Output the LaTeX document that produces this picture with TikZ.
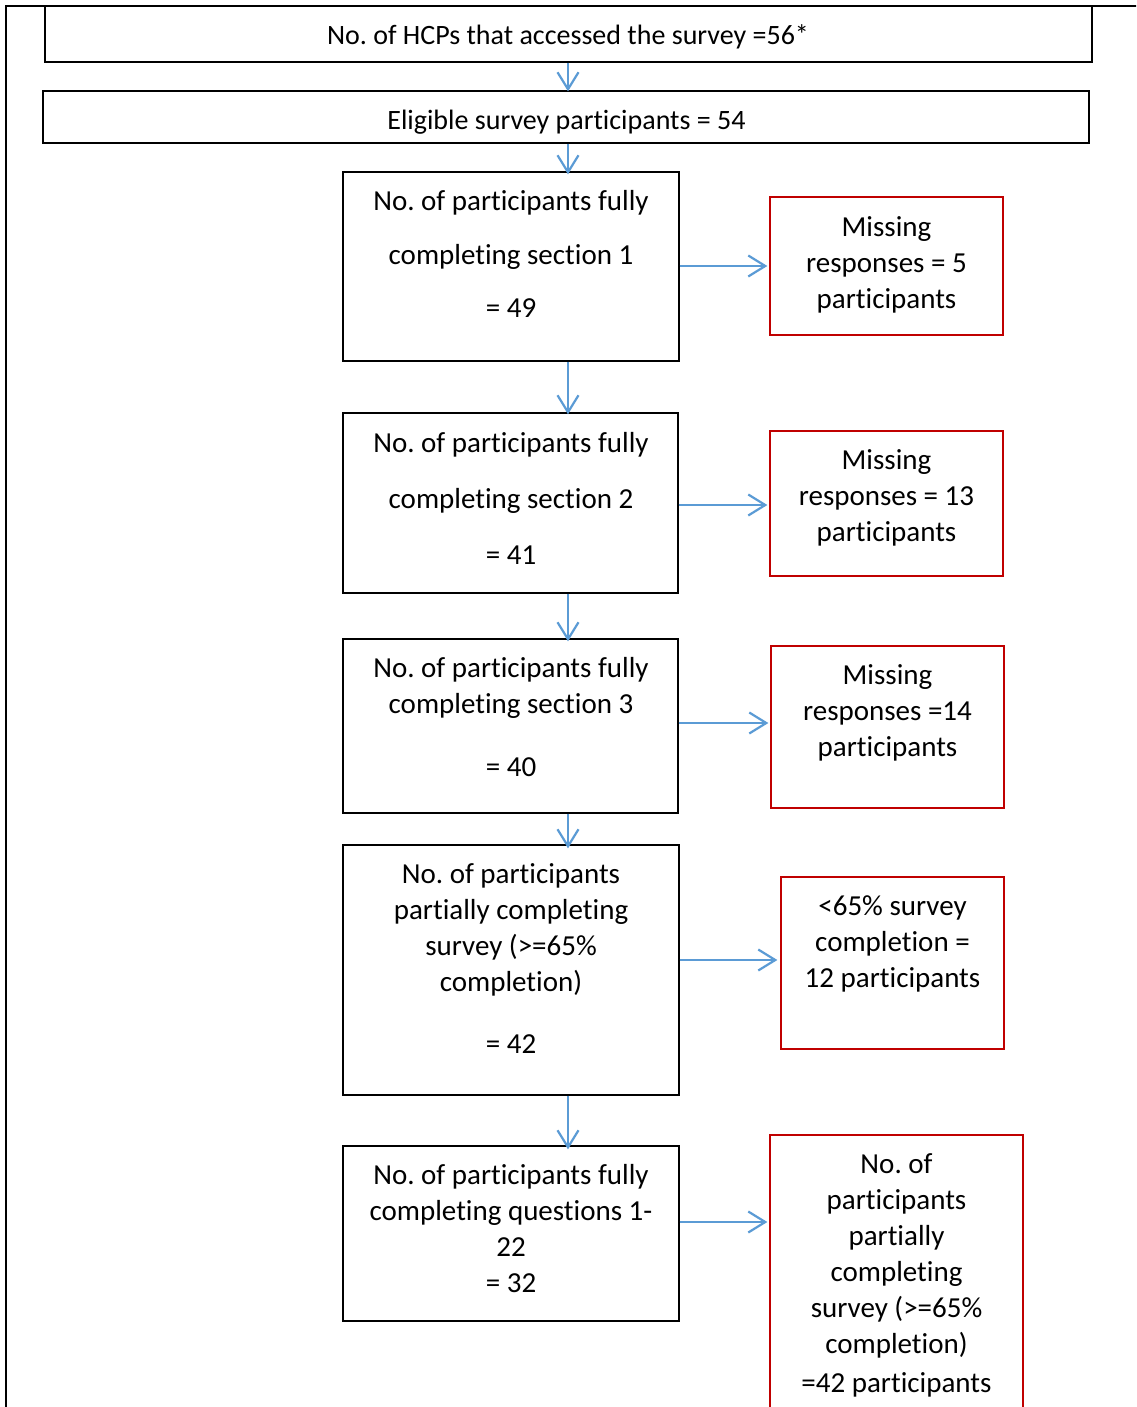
\documentclass[tikz,border=0pt]{standalone}
\usepackage{fontspec}
\setmainfont{Carlito}[Ligatures={NoCommon}]
\frenchspacing
\usetikzlibrary{arrows.meta,calc}
\definecolor{boxred}{RGB}{192,0,0}
\definecolor{arrblue}{RGB}{91,155,213}
\begin{document}
\begin{tikzpicture}[x=1pt,y=-1pt,
  blk/.style={draw=black, line width=1.3pt, rectangle, inner sep=0pt},
  redblk/.style={draw=boxred, line width=1.3pt, rectangle, inner sep=0pt},
  txt/.style={align=center, inner sep=0pt, font=\fontsize{29}{36}\selectfont,
    execute at begin node=\strut, execute at end node=\strut},
  toptxt/.style={txt, font=\fontsize{28}{36}\selectfont},
  arr/.style={draw=arrblue, line width=2.2pt, -{Straight Barb[length=17pt,width=21pt,line width=2.2pt]}}]
\clip (0,0) rectangle (1136,1407);
\fill[white] (0,0) rectangle (1136,1407);
% outer frame
\coordinate (fb) at (6,1410);
\coordinate (fc) at (6,6);
\coordinate (fr) at (1140,6);
\draw[line width=2.2pt] (fb) -- (fc) -- (fr);
% vertical arrow axis
\coordinate (ax) at (568,0);
% boxes
\node[blk, minimum width=1047pt, minimum height=56pt] (b1) at (568.5,34) {};
\node[blk, minimum width=1046pt, minimum height=52pt] (b2) at (566,117) {};
\node[blk, minimum width=336pt, minimum height=189pt] (b3) at (511,266.5) {};
\node[blk, minimum width=335pt, minimum height=180pt] (b4) at (510.5,503) {};
\node[blk, minimum width=335pt, minimum height=174pt] (b5) at (510.5,726) {};
\node[blk, minimum width=336pt, minimum height=250pt] (b6) at (511,970) {};
\node[blk, minimum width=336pt, minimum height=175pt] (b7) at (511,1233.5) {};
\node[redblk, minimum width=233pt, minimum height=138pt] (r1) at (886.5,266) {};
\node[redblk, minimum width=233pt, minimum height=145pt] (r2) at (886.5,503.5) {};
\node[redblk, minimum width=233pt, minimum height=162pt] (r3) at (887.5,727) {};
\node[redblk, minimum width=223pt, minimum height=172pt] (r4) at (892.5,963) {};
\node[redblk, minimum width=253pt, minimum height=285pt] (r5) at (896.5,1277.5) {};
% texts
\node[toptxt] (t1) at (568,37) {No. of HCPs that accessed the survey =56*};
\node[toptxt] (t2) at (566.5,122) {Eligible survey participants = 54};
\node[txt] (t3) at (511,259.5) {No. of participants fully\\[17.5pt]completing section 1\\[17.5pt]= 49};
\node[txt] (t4) at (511,504) {No. of participants fully\\[20pt]completing section 2\\[20pt]= 41};
\node[txt] (t5) at (511,722.5) {No. of participants fully\\completing section 3\\[27pt]= 40};
\node[txt] (t6) at (511,964) {No. of participants\\partially completing\\survey (>=65\%\\completion)\\[26pt]= 42};
\node[txt] (t7) at (511,1233.5) {No. of participants fully\\completing questions 1-\\22\\= 32};
\node[txt] (u1) at (886.5,267.5) {Missing\\responses = 5\\participants};
\node[txt] (u2) at (886.5,501) {Missing\\responses = 13\\participants};
\node[txt] (u3) at (887.5,716) {Missing\\responses =14\\participants};
\node[txt] (u4) at (892.5,947) {<65\% survey\\completion =\\12 participants};
\node[txt] (u5) at (896.5,1278) {No. of\\participants\\partially\\completing\\survey (>=65\%\\completion)\\[3pt]=42 participants};
% vertical arrows
\draw[arr] (b1.south -| ax) -- ([yshift=-1pt]b2.north -| ax);
\draw[arr] (b2.south -| ax) -- ([yshift=-3pt]b3.north -| ax);
\draw[arr] (b3.south -| ax) -- ([yshift=-2pt]b4.north -| ax);
\draw[arr] (b4.south -| ax) -- ([yshift=-3pt]b5.north -| ax);
\draw[arr] (b5.south -| ax) -- ([yshift=-4pt]b6.north -| ax);
\draw[arr] (b6.south -| ax) -- ([yshift=-4pt]b7.north -| ax);
% horizontal arrows
\draw[arr] ([yshift=0.5pt]b3.east) coordinate (s1) -- ([xshift=-2pt]s1 -| r1.west);
\draw[arr] ([yshift=-2pt]b4.east) coordinate (s2) -- ([xshift=-2pt]s2 -| r2.west);
\draw[arr] ([yshift=3pt]b5.east) coordinate (s3) -- ([xshift=-2pt]s3 -| r3.west);
\draw[arr] ([yshift=10pt]b6.east) coordinate (s4) -- ([xshift=-3pt]s4 -| r4.west);
\draw[arr] ([yshift=11.5pt]b7.east) coordinate (s5) -- ([xshift=-2pt]s5 -| r5.west);
\end{tikzpicture}
\end{document}
